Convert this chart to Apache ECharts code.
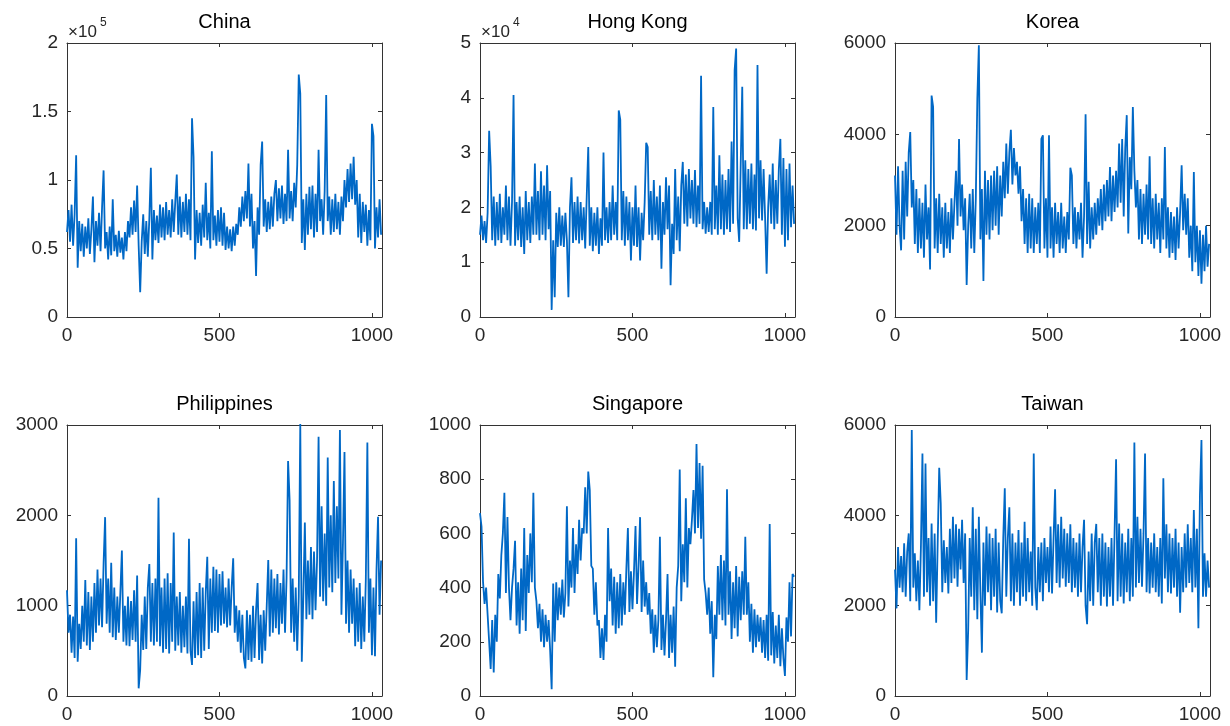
<!DOCTYPE html>
<html>
<head>
<meta charset="utf-8">
<script src="https://cdn.jsdelivr.net/npm/echarts@6/dist/echarts.min.js"></script>
<style>
html,body{margin:0;padding:0;background:#fff;}
#chart{width:1230px;height:726px;}
</style>
</head>
<body>
<div id="chart"></div>
<script>
// samples every 5 steps along x (0..1030)
const step = 5;

// China and Hong Kong in thousands
const china = [
  62,78,55,82,52,75,118,36,70,48,
  68,44,66,50,72,46,64,88,40,70,
  52,76,48,80,107,50,62,42,66,45,
  86,48,60,44,63,47,58,42,62,48,
  70,58,80,60,85,62,96,52,18,55,
  75,46,70,44,72,109,42,78,56,74,
  54,82,58,80,56,84,60,78,58,86,
  62,84,104,60,88,58,84,62,90,60,
  86,56,145,117,42,78,54,76,52,82,
  58,98,56,76,50,121,56,74,52,78,
  55,80,52,76,49,66,50,64,48,66,
  52,68,60,80,66,88,70,92,72,112,
  66,90,50,70,30,80,60,111,128,66,
  86,62,84,64,88,66,90,100,70,94,
  72,96,68,90,70,122,72,92,70,98,
  80,111,177,163,54,86,49,90,60,95,
  64,96,58,90,62,122,70,86,60,92,
  162,70,88,60,86,62,90,64,84,60,
  88,70,100,80,108,84,112,86,117,82,
  100,58,90,54,84,62,82,52,78,56,
  141,132,50,80,58,86,60
];

const hongKong = [
  15,18.5,14,17.5,13.5,19,34,27.5,14,22,
  13,21,14,22.5,13.5,20,15,24,14,22,
  13,21,40.5,13,21,14,22,12.8,20,11.5,
  23,14,21,13.5,22,15,28,15,23,14,
  26.6,15,24,14,27.7,16,23,1.3,14,3.6,
  19,12.8,20,13,18.5,12.8,19,14,3.6,20,
  25.5,13.5,21,14,22,13.4,21,14,20,12.5,
  22,31,13,20,12,19,13,20,11.5,18,
  13,30,14,20,13.5,21,14,24,15,21,
  14,37.7,36,14,23,13,22,14,21,10.3,
  20,13,24,12.8,20,10.3,19,14,21,31.8,
  31,15,23,14,25,15,22,14,24,8.8,
  21,15,25.5,16,24,5.8,17,11.5,27,14,
  22,12,24,28.3,17,26,16.5,27,18,25,
  17,26.8,16.4,24,17,44,16,21,15.2,20,
  15.5,21,15,38.3,16,24,15,29.5,16,26,
  15,25,16,27,15.5,32,17,45,49,18,
  13.7,28,42,16,28.6,16,27,17,28,16,
  26,15.8,46,18,28.6,17.6,27,18,7.9,20,
  26,17,28,16,25,17,27,32.5,15,29,
  12.8,27,14,28,16.4,24,17
];

const korea = [
  3100,1800,3300,2000,1460,3200,1700,3400,2200,3600,
  4050,2400,3000,1600,2800,1400,2600,1500,2500,1300,
  2900,1700,2400,1040,4850,4600,1500,2600,1400,2700,
  1600,2400,1300,2500,1500,2300,1400,2600,1700,2500,
  3200,2000,3900,2200,2900,1900,2600,700,2000,2700,
  1500,2800,1400,2600,4780,5950,1700,2800,790,3200,
  1800,3000,1700,3100,1900,3200,2000,3300,1800,3100,
  2200,3400,2600,3800,2700,3600,4100,2900,3700,3100,
  3400,2700,3300,2100,2800,1600,2600,1400,2700,1500,
  2600,1400,2400,1600,2500,1400,3900,3980,1500,2600,
  1300,3980,1500,2400,1300,2500,1600,2300,1400,2500,
  1500,2200,1400,2300,1700,3270,3100,1600,2400,1500,
  2300,1700,2500,1300,2200,4440,1600,2960,1500,2400,
  1700,2500,1800,2600,2000,2800,1900,2900,2100,3000,
  2200,3285,2100,3100,2300,3200,2400,3800,2500,3900,
  2200,3700,4420,1830,3500,2800,4600,3200,2400,3000,
  1700,2800,1600,2700,1800,2900,1700,3520,1600,2600,
  1500,2700,1700,2500,1400,2600,1700,3720,1500,2400,
  1300,2300,1400,2200,1250,2400,1500,2300,3320,1900,
  2700,1800,2600,1300,2000,1000,3175,1200,2000,900,
  1900,730,1800,1000,2000,1100,1600
];

const philippines = [
  1170,700,900,480,880,420,1745,380,800,520,
  1000,600,1285,560,1150,510,1100,600,1250,700,
  1400,780,1300,760,1470,1980,800,1300,700,1475,
  650,1200,620,1100,700,1150,1610,600,1000,560,
  1100,550,1050,620,1170,600,1335,85,290,900,
  510,1100,520,1200,1460,600,1250,560,1300,600,
  2195,550,1200,480,1300,520,1360,470,1250,600,
  1810,500,1100,560,1150,480,1000,540,1100,470,
  1740,500,343,1050,420,1150,450,1250,420,1200,
  500,1150,1540,520,1300,700,1430,720,1400,700,
  1350,780,1380,800,1200,760,1300,780,1200,1525,
  700,1000,600,950,480,900,420,306,950,400,
  900,380,1000,420,950,1250,400,900,360,950,
  500,1000,1505,660,1400,700,1300,750,1350,680,
  1250,800,1400,700,1300,2600,2170,700,1300,600,
  1200,500,1100,3010,380,1100,1920,850,1500,900,
  1650,850,1600,950,1500,2870,1100,2100,1050,1800,
  1000,2640,1200,2000,1150,2380,1250,2100,1300,2945,
  900,1700,2700,800,1500,700,1400,800,1300,550,
  1200,600,1250,520,1100,600,1300,2805,700,1300,
  450,1200,440,1400,1985,900,1500
];

const singapore = [
  675,625,420,340,400,300,200,100,280,87,
  300,200,450,360,520,600,750,380,660,400,
  280,400,470,573,260,420,230,470,280,620,
  240,520,380,600,420,750,400,350,250,340,
  200,320,180,300,200,280,170,25,415,200,
  420,280,400,300,430,290,380,700,330,500,
  400,620,380,560,450,650,500,620,600,770,
  600,828,760,480,470,300,420,260,280,140,
  250,133,300,200,620,350,470,260,440,230,
  420,250,450,260,420,300,470,620,310,460,
  320,460,627,340,480,660,310,500,330,420,
  300,380,230,320,160,300,180,280,588,170,
  300,150,280,450,140,300,160,330,108,400,
  480,836,350,560,420,730,400,620,560,650,
  760,600,930,620,860,580,850,430,380,300,
  400,230,350,69,300,210,480,300,520,280,
  500,260,763,300,460,210,420,250,480,220,
  440,280,460,300,588,300,420,200,340,160,
  320,180,300,200,290,160,280,140,300,130,
  635,150,310,120,260,140,300,110,250,140,
  74,290,200,420,220,450,440
];

const taiwan = [
  2800,1940,3300,2400,3100,2300,3380,2200,3200,3600,
  2100,5890,2400,3160,2100,3000,1900,3300,5370,2200,
  5150,2300,3500,2000,3820,2100,3600,1620,3400,5055,
  4265,2300,3450,2500,3300,2270,3700,2500,3970,2600,
  3800,2420,3700,2800,3900,2500,3600,355,1460,3500,
  2200,4180,1900,3700,1700,3970,2300,960,3400,2000,
  3750,2300,3600,1900,3500,2200,3700,1850,3400,2100,
  1830,3500,4600,2200,3500,4180,2100,3600,2000,3400,
  2300,3675,2000,3400,2200,3860,2100,3500,2300,3200,
  2000,5370,2400,1900,3300,2300,3400,2100,3500,2500,
  3300,2300,3750,2270,3500,4575,2500,3800,2400,3970,
  2600,3700,2420,3600,2500,3800,2300,3500,2400,3400,
  2200,3600,2300,3300,3900,2000,1590,3200,2100,3600,
  2000,3400,3810,2300,3500,2000,3600,2200,3400,1980,
  3300,2200,3500,2000,3600,5240,2100,3820,2200,3600,
  2050,3400,2300,3700,2100,3500,2200,5610,2400,3970,
  2500,3700,2420,3600,5370,2300,3500,2270,3400,2400,
  3600,2300,3300,2200,3500,2050,4820,2600,3800,2300,
  3600,2270,3500,2400,3700,2200,3400,1845,3300,2300,
  3600,2400,3800,2500,3500,2300,4120,2400,3700,1500,
  4450,5670,2200,3160,2200,3000,2400
];

const panels = [
  { name: 'China',       values: china,       unit: 1000, max: 200000, interval: 50000, div: 1e5, exp: '5' },
  { name: 'Hong Kong',   values: hongKong,    unit: 1000, max: 50000,  interval: 10000, div: 1e4, exp: '4' },
  { name: 'Korea',       values: korea,       unit: 1,    max: 6000,   interval: 2000,  div: 1 },
  { name: 'Philippines', values: philippines, unit: 1,    max: 3000,   interval: 1000,  div: 1 },
  { name: 'Singapore',   values: singapore,   unit: 1,    max: 1000,   interval: 200,   div: 1 },
  { name: 'Taiwan',      values: taiwan,      unit: 1,    max: 6000,   interval: 2000,  div: 1 }
];

const xMax = 1033;
const lefts = [67, 480, 895];
const tops = [43, 425];
const font = "'Liberation Sans', Arial, sans-serif";
const axisColor = '#333333';
const lineColor = '#0068C6';

const grid = [], xAxis = [], yAxis = [], series = [], graphic = [];

panels.forEach((p, i) => {
  const left = lefts[i % 3];
  const top = tops[Math.floor(i / 3)];
  const w = 315, h = i < 3 ? 274 : 271;
  grid.push({ left: left, top: top, width: w, height: h });

  const axisLine = { show: true, onZero: false, lineStyle: { color: axisColor, width: 1 } };
  const tick = { show: true, inside: true, length: 4, lineStyle: { color: axisColor } };
  const label = { color: '#262626', fontSize: 19, fontFamily: font };

  xAxis.push({
    gridIndex: i, type: 'value', min: 0, max: xMax, interval: 500, position: 'bottom',
    axisLine: axisLine, axisTick: tick, splitLine: { show: false },
    axisLabel: Object.assign({ margin: 9, showMaxLabel: false, formatter: v => String(v) }, label)
  });
  xAxis.push({
    gridIndex: i, type: 'value', min: 0, max: xMax, interval: 500, position: 'top',
    axisLine: axisLine, axisTick: tick, splitLine: { show: false }, axisLabel: { show: false }
  });
  yAxis.push({
    gridIndex: i, type: 'value', min: 0, max: p.max, interval: p.interval, position: 'left',
    axisLine: axisLine, axisTick: tick, splitLine: { show: false },
    axisLabel: Object.assign({ margin: 9, formatter: v => String(v / p.div) }, label)
  });
  yAxis.push({
    gridIndex: i, type: 'value', min: 0, max: p.max, interval: p.interval, position: 'right',
    axisLine: axisLine, axisTick: tick, splitLine: { show: false }, axisLabel: { show: false }
  });

  series.push({
    type: 'line', name: p.name, xAxisIndex: 2 * i, yAxisIndex: 2 * i,
    data: p.values.map((v, k) => [k * step, v * p.unit]),
    symbol: 'none', lineStyle: { color: lineColor, width: 1.8 }, silent: true
  });

  graphic.push({
    type: 'text', x: left + w / 2, y: top - 31,
    style: { text: p.name, fill: '#000', font: '20px ' + font, textAlign: 'center' }
  });
  if (p.exp) {
    graphic.push({
      type: 'text', x: left + 1, y: top - 19,
      style: { text: '\u00d710', fill: '#262626', font: '17px ' + font }
    });
    graphic.push({
      type: 'text', x: left + 33, y: top - 26,
      style: { text: p.exp, fill: '#262626', font: '12px ' + font }
    });
  }
});

const chart = echarts.init(document.getElementById('chart'));
chart.setOption({
  animation: false,
  backgroundColor: '#fff',
  grid: grid,
  xAxis: xAxis,
  yAxis: yAxis,
  series: series,
  graphic: graphic
});
</script>
</body>
</html>
